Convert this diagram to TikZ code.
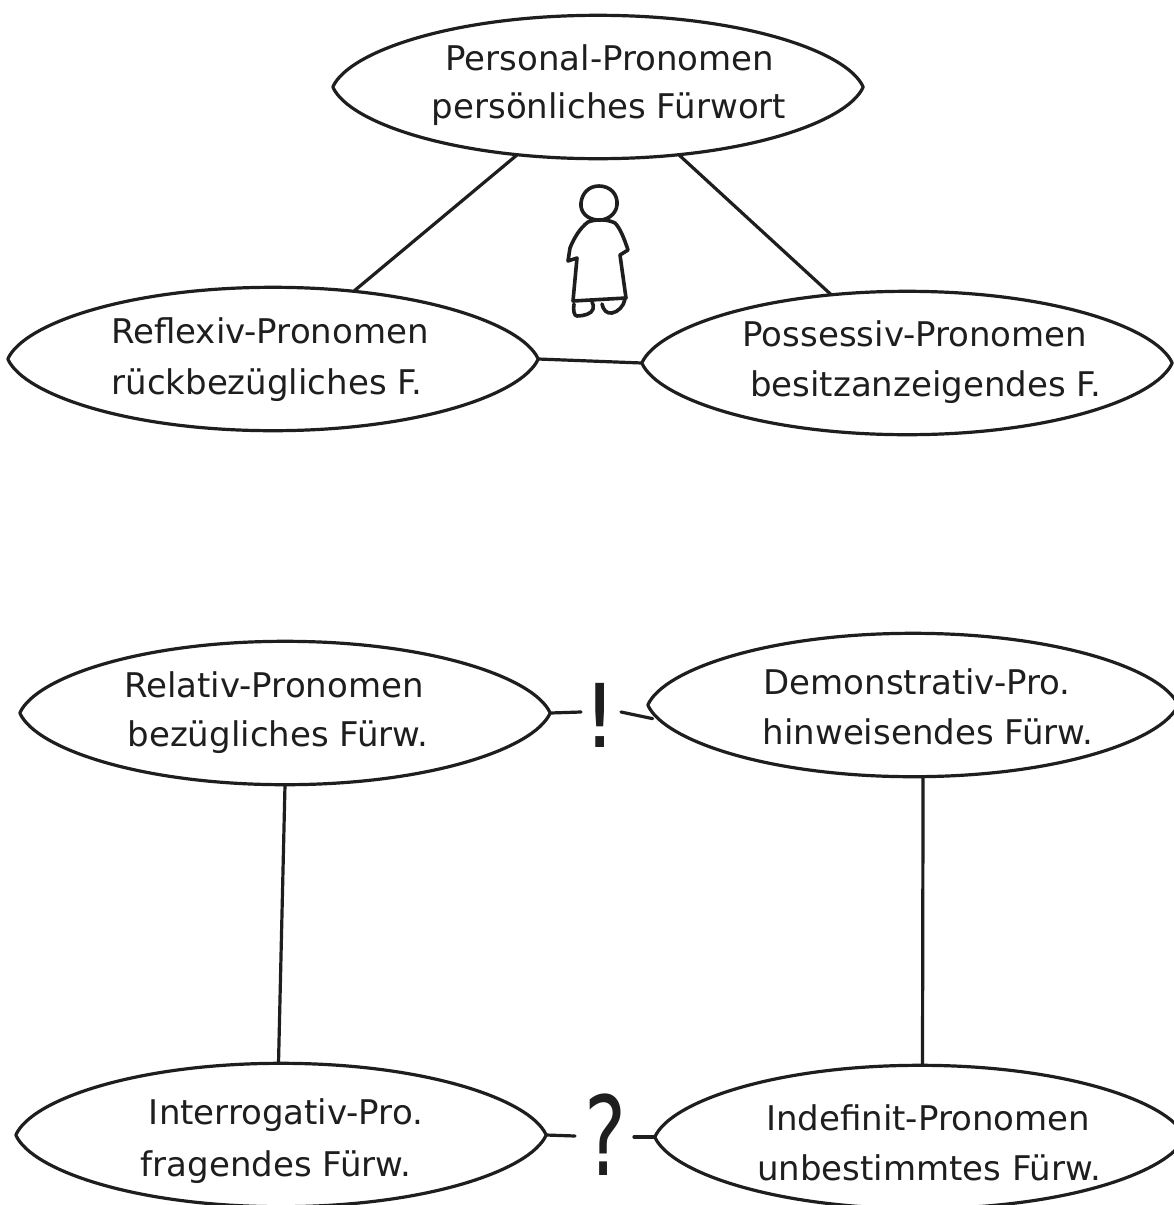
\documentclass[tikz,border=0pt]{standalone}
\usepackage{fontspec}
\usetikzlibrary{shapes.geometric,calc}
\setmainfont{DejaVu Sans}
\definecolor{ink}{HTML}{1E1E1E}
\newcommand{\lensline}[3]{\makebox[0pt][c]{\hspace*{#1pt}\raisebox{#2pt}[0pt][0pt]{#3}}}
\newcommand{\lensoutline}[1]{%
  \draw[inkline] let \p1=(#1.center),\p2=(#1.east),\p3=(#1.north),\n1={\x2-\x1},\n2={\y3-\y1} in
    (#1.west) .. controls (\x1-0.94*\n1,\y1+0.50*\n2) and (\x1-0.54*\n1,\y3) .. (#1.north)
    .. controls (\x1+0.54*\n1,\y3) and (\x1+0.94*\n1,\y1+0.50*\n2) .. (#1.east)
    .. controls (\x1+0.94*\n1,\y1-0.50*\n2) and (\x1+0.54*\n1,\y1-\n2) .. (#1.south)
    .. controls (\x1-0.54*\n1,\y1-\n2) and (\x1-0.94*\n1,\y1-0.50*\n2) .. (#1.west);}
\tikzset{
  inkline/.style={draw=ink,line width=3.2pt,line cap=round,line join=round},
  figline/.style={draw=ink,line width=3.6pt,line cap=round,line join=round},
  lens/.style={ellipse,inner sep=0pt,minimum width=530pt,minimum height=143pt,text=ink,
    font=\fontsize{34}{40}\selectfont},
  mark sign/.style={inner sep=0pt,text=ink}
}
\begin{document}
\begin{tikzpicture}[x=1pt,y=-1pt]
\useasboundingbox (0,0) rectangle (1174,1205);
\clip (0,0) rectangle (1174,1205);
\fill[white] (0,0) rectangle (1174,1205);
\node[lens] (pers) at (598,87) {\lensline{24}{17}{Personal-Pronomen}\lensline{22}{-31}{persönliches Fürwort}};
\node[lens] (refl) at (273,359) {\lensline{-6}{16}{Reflexiv-Pronomen}\lensline{-12}{-35}{rückbezügliches F.}};
\node[lens] (poss) at (907,363) {\lensline{16}{17}{Possessiv-Pronomen}\lensline{38}{-33}{besitzanzeigendes F.}};
\node[lens] (rela) at (285,713) {\lensline{-22}{16}{Relativ-Pronomen}\lensline{-14}{-33}{bezügliches Fürw.}};
\node[lens] (demo) at (913,705) {\lensline{8}{11}{Demonstrativ-Pro.}\lensline{30}{-39}{hinweisendes Fürw.}};
\node[lens] (inte) at (281,1135) {\lensline{10}{11}{Interrogativ-Pro.}\lensline{-10}{-41}{fragendes Fürw.}};
\node[lens] (inde) at (920,1137) {\lensline{16}{7}{Indefinit-Pronomen}\lensline{18}{-43}{unbestimmtes Fürw.}};
\foreach \lname in {pers,refl,poss,rela,demo,inte,inde}{\lensoutline{\lname}}
\node[mark sign,font=\fontsize{88}{90}\selectfont] (bang) at (600,715) {!};
\node[mark sign,font=\fontsize{110}{110}\selectfont] (ques) at (606,1135) {\scalebox{0.72}[1]{?}};
\coordinate (bangL) at (581,712);
\coordinate (bangR) at (621,712);
\coordinate (quesL) at (575,1136);
\coordinate (quesR) at (634,1137);
\draw[inkline] (pers.220) -- (refl.40);
\draw[inkline] (pers.320) -- (poss.138);
\draw[inkline] (refl.-0.4) -- (poss.west);
\draw[inkline] (rela.south) -- (inte.92);
\draw[inkline] (demo.278.6) -- (inde.88.4);
\draw[inkline] (rela.east) -- (bangL);
\draw[inkline] (bangR) -- (demo.183);
\draw[inkline] (inte.east) -- (quesL);
\draw[inkline] (quesR) -- (inde.west);
% figure
\draw[figline] (599,186) .. controls (610,186) and (618,194) .. (617,205)
  .. controls (616,215) and (606,221) .. (597,220)
  .. controls (587,219) and (580,212) .. (581,203)
  .. controls (582,193) and (589,186) .. (599,186) -- cycle;
\draw[figline] (588,222) .. controls (580,228) and (574,238) .. (570,248)
  -- (568,261) -- (577,258) -- (573,301) -- (626,298) -- (620,255) -- (628,250)
  .. controls (624,238) and (620,228) .. (615,223) .. controls (607,219) and (596,219) .. (588,222) -- cycle;
\draw[figline] (574,304) .. controls (573,310) and (574,316) .. (577,316)
  .. controls (583,316) and (592,314) .. (593,309) .. controls (594,306) and (593,304) .. (592,302);
\draw[figline] (602,304) .. controls (603,310) and (607,314) .. (612,313)
  .. controls (618,312) and (624,306) .. (625,299);
\end{tikzpicture}
\end{document}
